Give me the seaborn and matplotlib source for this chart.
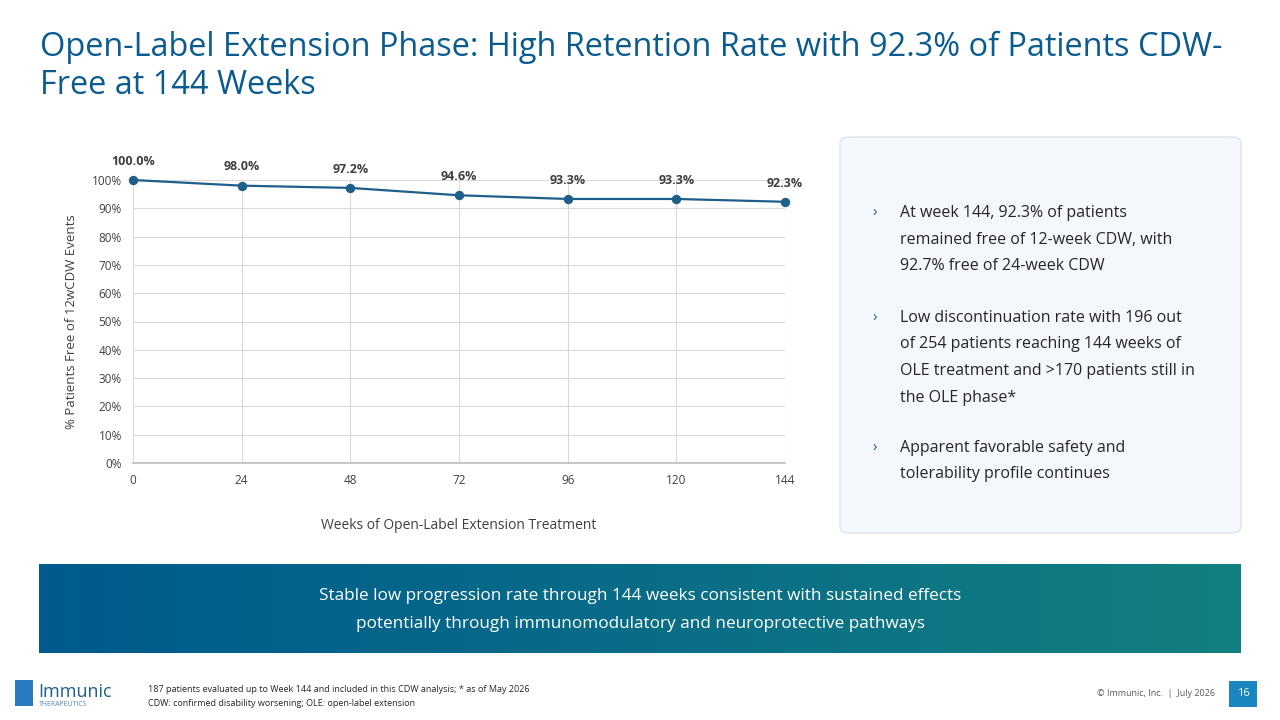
import matplotlib
matplotlib.use("Agg")
import matplotlib.pyplot as plt
import seaborn as sns
import numpy as np
import pandas as pd
from matplotlib.patches import FancyBboxPatch, Rectangle
from matplotlib.colors import LinearSegmentedColormap

weeks = [0, 24, 48, 72, 96, 120, 144]
pct = [100.0, 98.0, 97.2, 94.6, 93.3, 93.3, 92.3]
labels = ["100.0%", "98.0%", "97.2%", "94.6%", "93.3%", "93.3%", "92.3%"]
yticks = list(range(0, 101, 10))

sns.set_theme(style="white")
plt.rcParams['font.family'] = ['Open Sans', 'DejaVu Sans']

fig = plt.figure(figsize=(12.8, 7.2), dpi=100)
fig.patch.set_facecolor("white")

title_c = "#0b5b8f"
fig.text(40/1280, 1-47/720, "Open-Label Extension Phase: High Retention Rate with 92.3% of Patients CDW-",
         fontsize=23.4, color=title_c, va="center")
fig.text(40/1280, 1-85/720, "Free at 144 Weeks", fontsize=23.4, color=title_c, va="center")

ax = fig.add_axes([133/1280, 1-463/720, 652/1280, 283/720])
df = pd.DataFrame({"w": weeks, "p": pct})
sns.lineplot(data=df, x="w", y="p", ax=ax, color="#1f5f8b", marker="o", markersize=6,
             markeredgecolor="#1f5f8b", linewidth=1.6, clip_on=False)
ax.set_xlim(0, 144); ax.set_ylim(0, 100)
ax.set_xticks(weeks); ax.set_yticks(yticks)
ax.set_yticklabels([f"{t}%" for t in yticks])
ax.tick_params(axis="both", labelsize=8.5, colors="#404040", length=0, pad=8)
ax.grid(True, color="#d9d9d9", linewidth=0.8)
for s in ["top", "right", "left"]:
    ax.spines[s].set_visible(False)
ax.spines["bottom"].set_color("#bfbfbf")
ax.set_xlabel("Weeks of Open-Label Extension Treatment", fontsize=10, color="#404040", labelpad=22)
ax.set_ylabel("% Patients Free of 12wCDW Events", fontsize=9.5, color="#404040", labelpad=10)
for w, p, l in zip(weeks, pct, labels):
    ax.annotate(l, (w, p), xytext=(0, 11), textcoords="offset points", ha="center",
                fontsize=9, fontweight="bold", color="#404040", annotation_clip=False)

box = FancyBboxPatch((840/1280, 1-533/720), 401/1280, 396/720, boxstyle="round,pad=0,rounding_size=0.008",
                     transform=fig.transFigure, facecolor="#f4f7fb", edgecolor="#dfe5ec", linewidth=1)
fig.patches.append(box)
bullets = [(213, ["At week 144, 92.3% of patients", "remained free of 12-week CDW, with", "92.7% free of 24-week CDW"]),
           (318, ["Low discontinuation rate with 196 out", "of 254 patients reaching 144 weeks of",
                  "OLE treatment and >170 patients still in", "the OLE phase*"]),
           (448, ["Apparent favorable safety and", "tolerability profile continues"])]
for y0, lines in bullets:
    fig.text(872/1280, 1-y0/720, "›", fontsize=11, color="#1f5f8b", va="center")
    for i, ln in enumerate(lines):
        fig.text(900/1280, 1-(y0+26.5*i)/720, ln, fontsize=11.5, color="#262626", va="center")

bax = fig.add_axes([39/1280, 1-653/720, 1202/1280, 89/720])
grad = np.linspace(0, 1, 256).reshape(1, -1)
cm = LinearSegmentedColormap.from_list("g", ["#005a8e", "#127f80"])
bax.imshow(grad, aspect="auto", cmap=cm, extent=[0, 1, 0, 1])
bax.axis("off")
bax.text(0.5, 0.64, "Stable low progression rate through 144 weeks consistent with sustained effects",
         ha="center", va="center", color="white", fontsize=12.3)
bax.text(0.5, 0.33, "potentially through immunomodulatory and neuroprotective pathways",
         ha="center", va="center", color="white", fontsize=12.3)

fig.text(38/1280, 1-692/720, "Immunic", fontsize=13, color="#1f5f8b", va="center")
fig.text(39/1280, 1-704/720, "THERAPEUTICS", fontsize=5, color="#5a87b0", va="center")
fig.patches.append(Rectangle((15/1280, 1-706/720), 18/1280, 26/720, transform=fig.transFigure,
                             facecolor="#2a7bbf", edgecolor="none"))
fig.text(148/1280, 1-690/720, "187 patients evaluated up to Week 144 and included in this CDW analysis; * as of May 2026",
         fontsize=6.5, color="#262626", va="center")
fig.text(148/1280, 1-704/720, "CDW: confirmed disability worsening; OLE: open-label extension",
         fontsize=6.5, color="#262626", va="center")
fig.text(1215/1280, 1-694/720, "© Immunic, Inc.  |  July 2026", fontsize=6.5, color="#595959",
         va="center", ha="right")
fig.patches.append(Rectangle((1229/1280, 1-707/720), 28/1280, 26/720, transform=fig.transFigure,
                             facecolor="#1a86c0", edgecolor="none"))
fig.text(1243/1280, 1-694/720, "16", fontsize=8, color="white", va="center", ha="center")

fig.savefig("out.png", dpi=100)
